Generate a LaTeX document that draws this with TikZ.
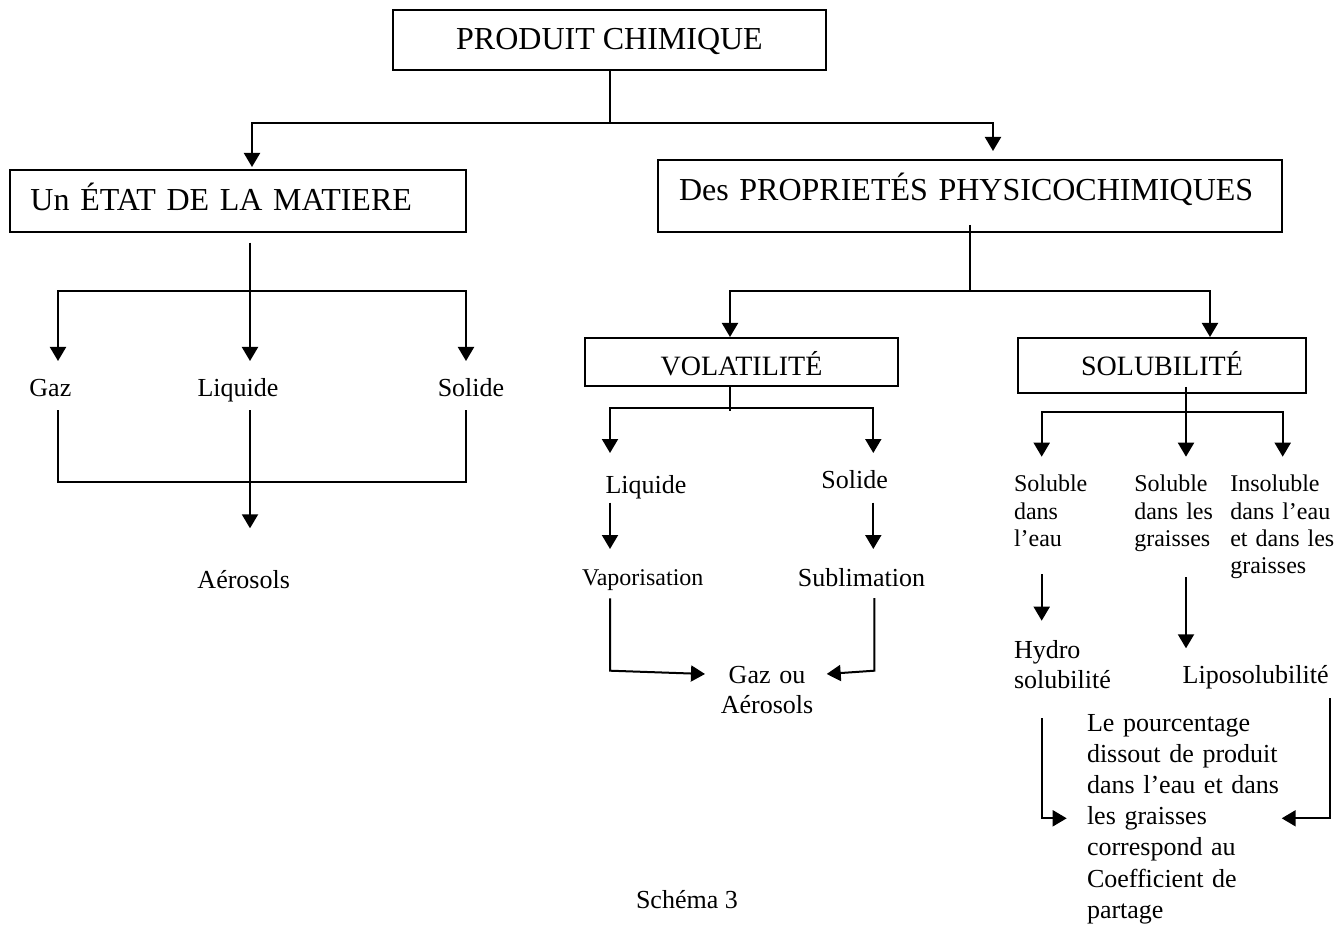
\documentclass[tikz,border=0pt]{standalone}
\usepackage{fontspec}
\setmainfont{Liberation Serif}
\usetikzlibrary{arrows.meta,calc}
\begin{document}
\begin{tikzpicture}[x=1pt,y=-1pt,
  line width=2pt,
  box/.style={draw, line width=2pt, inner sep=0pt},
  big/.style={font=\fontsize{32}{36}\selectfont},
  mid/.style={font=\fontsize{28}{32}\selectfont},
  lbl/.style={inner sep=0pt, font=\fontsize{26}{30}\selectfont},
  sml/.style={inner sep=0pt, font=\fontsize{24}{27.3}\selectfont},
  multi/.style={text width=#1, align=left},
  arr/.style={-{Triangle[length=14pt,width=16pt]}}]
\useasboundingbox (0,0) rectangle (1342,925);

% boxes
\node[box, big, minimum width=433pt, minimum height=60pt,
      text height=22pt, text depth=2pt] (root) at (609.5,40) {PRODUIT CHIMIQUE};
\node[box, big, minimum width=456pt, minimum height=62pt, text width=415pt, align=left,
      text height=22pt, text depth=2.6pt] (etat) at (238,201) {Un ÉTAT DE LA MATIERE};
\node[box, big, minimum width=624pt, minimum height=72pt, text width=582pt, align=left,
      text height=22pt, text depth=12.6pt] (prop) at (970,196) {Des PROPRIETÉS PHYSICOCHIMIQUES};
\node[box, mid, minimum width=313pt, minimum height=48pt,
      text height=28pt, text depth=0pt] (vol) at (741.5,362) {VOLATILITÉ};
\node[box, mid, minimum width=288pt, minimum height=55pt,
      text height=21pt, text depth=0pt] (sol) at (1162,365.5) {SOLUBILITÉ};

% states of matter
\node[lbl, anchor=base] (gaz) at (50.4,396.7) {Gaz};
\node[lbl, anchor=base] (liq1) at (238,396.7) {Liquide};
\node[lbl, anchor=base] (sld1) at (471,396.7) {Solide};
\node[lbl, anchor=base] (aer) at (243.7,588) {Aérosols};

% volatility
\node[lbl, anchor=base] (liq2) at (646,493) {Liquide};
\node[lbl, anchor=base] (sld2) at (854.7,488) {Solide};
\node[sml, anchor=base] (vap) at (642.8,585) {Vaporisation};
\node[lbl, anchor=base] (sub) at (861.5,586.7) {Sublimation};
\node[lbl, anchor=base, text width=120pt, align=center] (gaz2) at (767,683.3) {Gaz ou\\Aérosols};

% solubility
\node[sml, anchor=base west, multi=100pt] (s1) at (1013,491.7) {Soluble\\dans\\l’eau};
\node[sml, anchor=base west, multi=90pt] (s2) at (1133.3,491.7) {Soluble\\dans les\\graisses};
\node[sml, anchor=base west, multi=105pt] (s3) at (1229.3,491.7) {Insoluble\\dans l’eau\\et dans les\\graisses};
\node[lbl, anchor=base west, multi=110pt] (hyd) at (1013,658.3) {Hydro\\solubilité};
\node[lbl, anchor=base west] (lipo) at (1181.7,683.3) {Liposolubilité};
\node[lbl, anchor=base west, multi=200pt, font=\fontsize{26}{31.2}\selectfont] (para) at (1086,731)
  {Le pourcentage\\dissout de produit\\dans l’eau et dans\\les graisses\\correspond au\\Coefficient de\\partage};

\node[lbl, anchor=base west] (cap) at (635,908.5) {Schéma 3};

% top level
\coordinate (j0) at ($(root.south)+(0,52)$);
\draw (root.south) -- (j0);
\draw[arr] (j0) -| ($(etat.north)+(14,-2)$);
\draw[arr] (j0) -| ($(prop.north)+(23,-8)$);

% states of matter connectors
\coordinate (jE) at ($(etat.south)+(12,58)$);
\draw ($(etat.south)+(12,9.7)$) -- (jE);
\draw[arr] (jE) -| ($(gaz.base)+(7.6,-35.7)$);
\draw[arr] (jE) -| ($(sld1.base)+(-5,-35.7)$);
\draw[arr] (jE) -- ($(liq1.base)+(12,-35.7)$);
\draw ($(gaz.base)+(7.6,13.3)$) |- ($(sld1.base)+(-5,85)$) -- ($(sld1.base)+(-5,13.3)$);
\draw[arr] ($(liq1.base)+(12,13.3)$) -- ($(aer.base)+(6.3,-59.7)$);

% properties split
\coordinate (jP) at ($(prop.south)+(0,58)$);
\draw ($(prop.south)+(0,-8)$) -- (jP);
\draw[arr] (jP) -| ($(vol.north)+(-11.5,0)$);
\draw[arr] (jP) -| ($(sol.north)+(48,0)$);

% volatility connectors
\coordinate (jV) at ($(vol.south)+(-11.5,20.7)$);
\draw ($(vol.south)+(-11.5,0)$) -- ($(vol.south)+(-11.5,24)$);
\draw[arr] (jV) -| ($(liq2.base)+(-36,-40)$);
\draw[arr] (jV) -| ($(sld2.base)+(18.6,-35)$);
\draw[arr] ($(liq2.base)+(-36,9.7)$) -- ($(vap.base)+(-32.8,-36)$);
\draw[arr] ($(sld2.base)+(18.6,14.7)$) -- ($(sub.base)+(11.8,-37.7)$);
\draw[arr] ($(vap.base)+(-32.8,13.3)$) -- ($(vap.base)+(-32.8,85.7)$) -- ($(gaz2.base)+(-62,-9.3)$);
\draw[arr] ($(sub.base)+(12.8,11.3)$) -- ($(sub.base)+(12.8,84)$) -- ($(gaz2.base)+(59.7,-9.3)$);

% solubility connectors
\coordinate (jS) at ($(sol.south)+(24,17.7)$);
\draw[arr] ($(sol.south)+(24,-7)$) -- ($(s2.base west)+(52.7,-35)$);
\draw[arr] (jS) -| ($(s1.base west)+(28.7,-35)$);
\draw[arr] (jS) -| ($(s3.base west)+(53.4,-35)$);
\draw[arr] ($(s1.base west)+(28.7,82.3)$) -- ($(hyd.base west)+(28.7,-37.6)$);
\draw[arr] ($(s2.base west)+(52.7,85.3)$) -- ($(lipo.base west)+(4.3,-35)$);
\draw[arr] ($(hyd.base west)+(28.7,60)$) |- ($(para.base west)+(-19.3,87.3)$);
\draw[arr] ($(lipo.base west)+(148.3,15)$) |- ($(para.base west)+(195.7,87.3)$);
\end{tikzpicture}
\end{document}
